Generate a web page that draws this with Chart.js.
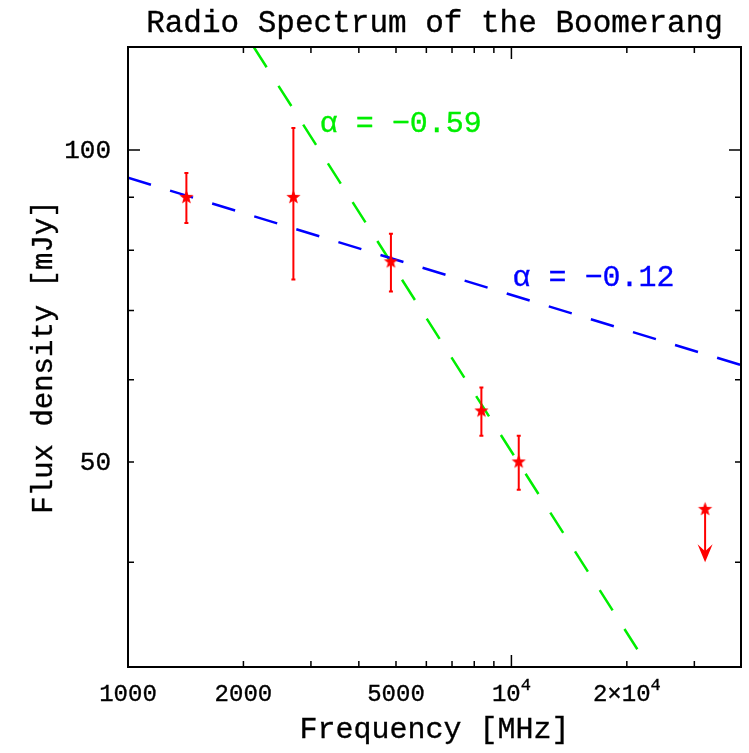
<!DOCTYPE html>
<html>
<head>
<meta charset="utf-8">
<script src="https://cdn.jsdelivr.net/npm/chart.js@4.4.1/dist/chart.umd.min.js"></script>
<style>
  html, body { margin: 0; padding: 0; background: #fff; }
  #wrap { width: 749px; height: 753px; }
</style>
</head>
<body>
<div id="wrap"><canvas id="c" width="749" height="753"></canvas></div>
<script>
// measured points (MHz, mJy)
const freqs = [1420, 2700, 4850, 8350, 10450];
const flux = [90, 90, 78, 56, 50];
const fluxErr = [5, 15, 5, 3, 3];

// upper limit at 32 GHz
const limitFreq = [32000];
const limitFlux = [45];
const limitArrowTo = [40];

// fitted power laws (end points)
const steepFreq = [2128, 21500];
const steepFlux = [125.7, 32.8];
const flatFreq = [1000, 39700];
const flatFlux = [94, 62];

// axis labels / ticks
const xLabelVals = [1000, 2000, 5000, 10000, 20000];
const xLabelText = ['1000', '2000', '5000', '10^4', '2×10^4'];
const xMajor = [1000, 10000];
const xMinor = [2000, 3000, 4000, 5000, 6000, 7000, 8000, 9000, 20000, 30000];
const yLabelVals = [100, 50];
const yMajor = [100];
const yMinor = [40, 50, 60, 70, 80, 90];

const RED = '#ff0000', GREEN = '#00ee00', BLUE = '#0000ff';
const FONT = '"Liberation Mono", "DejaVu Sans Mono", monospace';

// filled five point star for the markers
function makeStar(color, r) {
  const c = document.createElement('canvas');
  const s = Math.ceil(r * 2 + 2);
  c.width = s; c.height = s;
  const g = c.getContext('2d');
  g.fillStyle = color;
  g.beginPath();
  for (let i = 0; i < 10; i++) {
    const rr = i % 2 === 0 ? r : r * 0.42;
    const a = -Math.PI / 2 + i * Math.PI / 5;
    const px = s / 2 + rr * Math.cos(a), py = s / 2 + rr * Math.sin(a);
    i === 0 ? g.moveTo(px, py) : g.lineTo(px, py);
  }
  g.closePath();
  g.fill();
  return c;
}
const star = makeStar(RED, 7.5);

const pts = (xs, ys) => xs.map((x, i) => ({ x, y: ys[i] }));

// text slightly heavier, like the plotter font
function heavyText(ctx, s, x, y) {
  ctx.lineWidth = 0.35;
  ctx.strokeStyle = ctx.fillStyle;
  ctx.strokeText(s, x, y);
  ctx.fillText(s, x, y);
}

const decorPlugin = {
  id: 'decor',
  afterDatasetsDraw(chart) {
    const { ctx, scales: { x, y } } = chart;
    ctx.save();
    ctx.strokeStyle = RED;
    ctx.fillStyle = RED;
    ctx.lineWidth = 2;
    // error bars
    freqs.forEach((f, i) => {
      const px = x.getPixelForValue(f);
      const top = y.getPixelForValue(flux[i] + fluxErr[i]);
      const bot = y.getPixelForValue(flux[i] - fluxErr[i]);
      ctx.beginPath();
      ctx.moveTo(px, top); ctx.lineTo(px, bot);
      ctx.moveTo(px - 2, top); ctx.lineTo(px + 2, top);
      ctx.moveTo(px - 2, bot); ctx.lineTo(px + 2, bot);
      ctx.stroke();
    });
    // upper limit arrow
    limitFreq.forEach((f, i) => {
      const px = x.getPixelForValue(f);
      const y0 = y.getPixelForValue(limitFlux[i]);
      const y1 = y.getPixelForValue(limitArrowTo[i]);
      ctx.beginPath();
      ctx.moveTo(px, y0); ctx.lineTo(px, y1 - 6);
      ctx.stroke();
      ctx.beginPath();
      ctx.moveTo(px, y1);
      ctx.lineTo(px - 7.5, y1 - 18);
      ctx.lineTo(px, y1 - 11);
      ctx.lineTo(px + 7.5, y1 - 18);
      ctx.closePath();
      ctx.fill();
    });
    ctx.restore();
  },
  afterDraw(chart) {
    const { ctx, chartArea: a, scales: { x, y } } = chart;
    ctx.save();
    // frame
    ctx.strokeStyle = '#000';
    ctx.lineWidth = 2;
    ctx.strokeRect(a.left, a.top, a.right - a.left, a.bottom - a.top);
    // ticks on all four sides, pointing inward
    ctx.lineWidth = 1.5;
    ctx.beginPath();
    const xt = (v, len) => {
      const px = x.getPixelForValue(v);
      ctx.moveTo(px, a.bottom); ctx.lineTo(px, a.bottom - len);
      ctx.moveTo(px, a.top); ctx.lineTo(px, a.top + len);
    };
    const yt = (v, len) => {
      const py = y.getPixelForValue(v);
      ctx.moveTo(a.left, py); ctx.lineTo(a.left + len, py);
      ctx.moveTo(a.right, py); ctx.lineTo(a.right - len, py);
    };
    xMajor.forEach(v => xt(v, 12));
    xMinor.forEach(v => xt(v, 6));
    yMajor.forEach(v => yt(v, 12));
    yMinor.forEach(v => yt(v, 6));
    ctx.stroke();

    ctx.fillStyle = '#000';
    // x tick labels (with superscripts)
    xLabelVals.forEach((v, i) => {
      const px = x.getPixelForValue(v);
      const [base, sup] = xLabelText[i].split('^');
      ctx.font = '24px ' + FONT;
      const wb = ctx.measureText(base).width;
      ctx.font = '17px ' + FONT;
      const ws = sup ? ctx.measureText(sup).width : 0;
      let left = px - (wb + ws) / 2;
      ctx.textAlign = 'left';
      ctx.textBaseline = 'alphabetic';
      ctx.font = '24px ' + FONT;
      heavyText(ctx, base, left, 701);
      if (sup) {
        ctx.font = '17px ' + FONT;
        heavyText(ctx, sup, left + wb, 690);
      }
    });
    // y tick labels
    ctx.font = '26px ' + FONT;
    ctx.textAlign = 'right';
    ctx.textBaseline = 'middle';
    yLabelVals.forEach(v => heavyText(ctx, String(v), a.left - 17, y.getPixelForValue(v) + 1));

    // title and axis titles
    ctx.textAlign = 'center';
    ctx.textBaseline = 'alphabetic';
    ctx.font = '31px ' + FONT;
    heavyText(ctx, 'Radio Spectrum of the Boomerang', (a.left + a.right) / 2, 32);
    ctx.font = '30px ' + FONT;
    heavyText(ctx, 'Frequency [MHz]', (a.left + a.right) / 2, 738);
    ctx.save();
    ctx.translate(52, (a.top + a.bottom) / 2);
    ctx.rotate(-Math.PI / 2);
    ctx.font = '29px ' + FONT;
    heavyText(ctx, 'Flux density [mJy]', 0, 0);
    ctx.restore();

    // slope labels
    ctx.textAlign = 'left';
    ctx.font = '30px ' + FONT;
    ctx.fillStyle = GREEN;
    heavyText(ctx, 'α = −0.59', x.getPixelForValue(3162), y.getPixelForValue(104));
    ctx.fillStyle = BLUE;
    heavyText(ctx, 'α = −0.12', x.getPixelForValue(10060), y.getPixelForValue(73.9));
    ctx.restore();
  }
};

new Chart(document.getElementById('c'), {
  type: 'scatter',
  data: {
    datasets: [
      {
        label: 'data',
        data: pts(freqs.concat(limitFreq), flux.concat(limitFlux)),
        pointStyle: star,
        pointRadius: 7,
        order: 0
      },
      {
        label: 'alpha -0.59',
        data: pts(steepFreq, steepFlux),
        showLine: true,
        borderColor: GREEN,
        borderWidth: 2.5,
        borderDash: [24, 22],
        pointRadius: 0,
        order: 2
      },
      {
        label: 'alpha -0.12',
        data: pts(flatFreq, flatFlux),
        showLine: true,
        borderColor: BLUE,
        borderWidth: 2.5,
        borderDash: [24, 20],
        pointRadius: 0,
        order: 1
      }
    ]
  },
  plugins: [decorPlugin],
  options: {
    responsive: false,
    animation: false,
    layout: { padding: { left: 128, right: 7, top: 47, bottom: 86 } },
    plugins: { legend: { display: false }, tooltip: { enabled: false } },
    scales: {
      x: { type: 'logarithmic', min: 1000, max: 39700, display: false },
      y: { type: 'logarithmic', min: 31.7, max: 125.7, display: false }
    }
  }
});
</script>
</body>
</html>
